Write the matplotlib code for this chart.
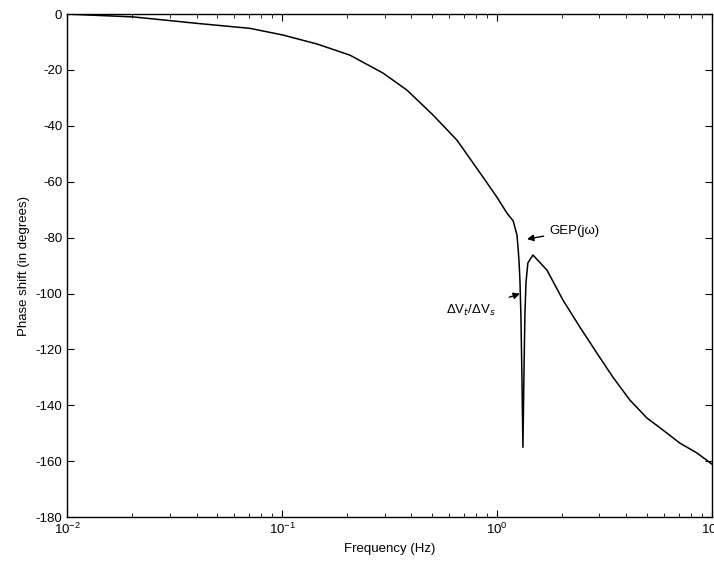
import numpy as np
import matplotlib
matplotlib.use("Agg")
import matplotlib.pyplot as plt

plt.rcParams['font.family'] = ['Liberation Sans', 'DejaVu Sans']
plt.rcParams['axes.unicode_minus'] = False

# frecuencia (Hz) y desfase (grados)
freq = [0.01, 0.0142, 0.0203, 0.04, 0.071, 0.1011, 0.1455, 0.2072, 0.295,
        0.3814, 0.504, 0.6516, 0.8607, 1.0, 1.113, 1.19, 1.239, 1.252,
        1.266, 1.279, 1.293, 1.307, 1.321, 1.336, 1.349, 1.365, 1.393,
        1.471, 1.709, 2.028, 2.432, 2.919, 3.464, 4.155, 4.986, 5.917,
        7.099, 8.515, 10.0]
fase = [0, -0.5, -1, -3.3, -5.1, -7.5, -10.7, -14.7, -21.1,
        -27.2, -36.1, -45.1, -58.3, -65.5, -71.2, -74, -79, -83,
        -88, -95, -108, -130, -155, -128, -108, -96, -89,
        -86.2, -91.6, -102.3, -112, -121.3, -129.9, -138.1, -144.5, -148.8,
        -153.5, -157, -161]

yticks = [0, -20, -40, -60, -80, -100, -120, -140, -160, -180]

fig = plt.figure(figsize=(7.14, 5.64), dpi=100)
ax = fig.add_axes([0.094, 0.083, 0.903, 0.892])

ax.semilogx(freq, fase, color="black", linewidth=1.1)
ax.set_xlim(0.01, 10)
ax.set_ylim(-180, 0)
ax.set_yticks(yticks)

ax.tick_params(which="both", direction="in", top=True, right=True, labelsize=9.5)
ax.tick_params(which="major", length=5)
ax.tick_params(which="minor", length=3)
for s in ax.spines.values():
    s.set_linewidth(1.0)

ax.set_xlabel("Frequency (Hz)", fontsize=9.5)
ax.set_ylabel("Phase shift (in degrees)", fontsize=9.5)

# anotaciones
ax.annotate("GEP(j\u03c9)", xy=(1.38, -80.5), xytext=(1.75, -77.5),
            fontsize=9.5, va="center", ha="left",
            arrowprops=dict(arrowstyle="-|>", color="black", lw=1.0, shrinkB=0))
ax.annotate("\u0394V$_t$/\u0394V$_s$", xy=(1.28, -100), xytext=(0.58, -106),
            fontsize=9.5, va="center", ha="left",
            arrowprops=dict(arrowstyle="-|>", color="black", lw=1.0, shrinkA=8, shrinkB=0))

fig.savefig("out.png", dpi=100)
